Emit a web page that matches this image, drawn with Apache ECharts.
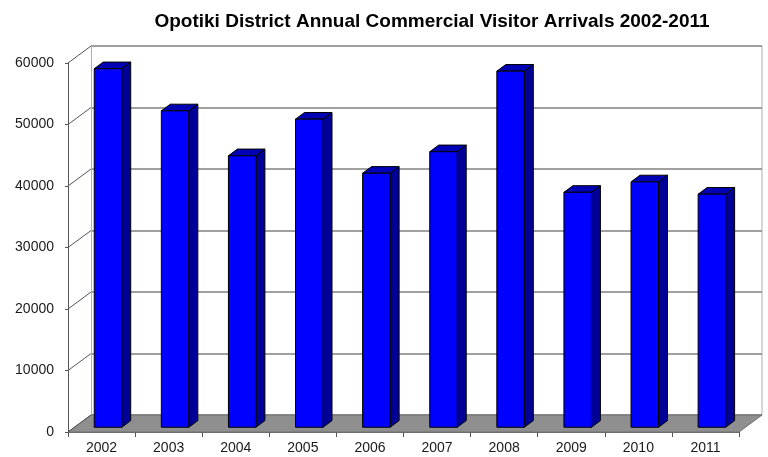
<!DOCTYPE html>
<html>
<head>
<meta charset="utf-8">
<script src="https://cdn.jsdelivr.net/npm/echarts@6/dist/echarts.min.js"></script>
<style>
  html, body { margin: 0; padding: 0; background: #fff; }
  #chart { width: 768px; height: 457px; }
</style>
</head>
<body>
<div id="chart"></div>
<script>
// Annual commercial visitor arrivals, Opotiki District
const years = ['2002', '2003', '2004', '2005', '2006', '2007', '2008', '2009', '2010', '2011'];
const arrivals = [58300, 51450, 44150, 50100, 41300, 44800, 57900, 38200, 39900, 37900];
const valueTicks = [0, 10000, 20000, 30000, 40000, 50000, 60000];

// Pseudo-3D layout: front plane grid and a back wall shifted by (DX, -DY)
const FRONT = { left: 68, right: 29, top: 63, bottom: 25 };
const DX = 23, DY = 17;
const BAR_FRONT = 0.28, BAR_DEPTH = 0.39, BAR_RATIO = 0.41;

const chart = echarts.init(document.getElementById('chart'), null, { renderer: 'canvas' });

const floorSeries = {
  type: 'custom',
  xAxisIndex: 0, yAxisIndex: 0,
  silent: true, z: 1,
  data: [[0]],
  renderItem(params, api) {
    const cs = params.coordSys;
    const y0 = api.coord([0, 0])[1];
    const x0 = cs.x, x1 = cs.x + cs.width;
    return {
      type: 'polygon',
      shape: { points: [[x0, y0], [x1, y0], [x1 + DX, y0 - DY], [x0 + DX, y0 - DY]] },
      style: { fill: '#8f8f8f', stroke: '#6e6e6e', lineWidth: 1 }
    };
  }
};

const wallSeries = {
  type: 'custom',
  xAxisIndex: 0, yAxisIndex: 0,
  silent: true, z: 2,
  data: valueTicks.map(v => [0, v]),
  renderItem(params, api) {
    const cs = params.coordSys;
    const y = api.coord([0, api.value(1)])[1];
    return {
      type: 'line',
      shape: { x1: cs.x, y1: y, x2: cs.x + DX, y2: y - DY },
      style: { stroke: '#555', lineWidth: 1 }
    };
  }
};

const barSeries = {
  type: 'custom',
  xAxisIndex: 0, yAxisIndex: 0,
  z: 5,
  data: arrivals.map((v, i) => [i, v]),
  renderItem(params, api) {
    const i = api.value(0);
    const top = api.coord([i, api.value(1)]);
    const base = api.coord([i, 0]);
    const band = api.size([1, 0])[0];
    const w = band * BAR_RATIO;
    const ox = DX * BAR_FRONT, oy = -DY * BAR_FRONT;
    const bx = DX * BAR_DEPTH, by = -DY * BAR_DEPTH;
    const L = top[0] - w / 2 + ox, R = top[0] + w / 2 + ox;
    const T = top[1] + oy, B = base[1] + oy;
    const edge = { stroke: '#000', lineWidth: 1, lineJoin: 'round' };
    return {
      type: 'group',
      children: [
        { type: 'polygon', shape: { points: [[R, T], [R + bx, T + by], [R + bx, B + by], [R, B]] },
          style: Object.assign({ fill: '#000096' }, edge) },
        { type: 'polygon', shape: { points: [[L, T], [R, T], [R + bx, T + by], [L + bx, T + by]] },
          style: Object.assign({ fill: '#0000b4' }, edge) },
        { type: 'rect', shape: { x: L, y: T, width: R - L, height: B - T },
          style: Object.assign({ fill: '#0000ff' }, edge) }
      ]
    };
  }
};

const labelFont = { fontFamily: 'Liberation Sans, Arial, sans-serif', fontSize: 14, color: '#1a1a1a' };

chart.setOption({
  backgroundColor: '#ffffff',
  animation: false,
  title: {
    text: 'Opotiki District Annual Commercial Visitor Arrivals 2002-2011',
    left: 427, top: 7, textAlign: 'center',
    textStyle: { fontFamily: 'Liberation Sans, Arial, sans-serif', fontSize: 19, fontWeight: 'bold', color: '#000' }
  },
  grid: [
    { left: FRONT.left, right: FRONT.right, top: FRONT.top, bottom: FRONT.bottom },
    { left: FRONT.left + DX, right: FRONT.right - DX, top: FRONT.top - DY, bottom: FRONT.bottom + DY }
  ],
  xAxis: [
    {
      type: 'category', gridIndex: 0, data: years, boundaryGap: true,
      axisLine: { show: true, lineStyle: { color: '#6e6e6e', width: 1 } },
      axisTick: { show: true, length: 5, alignWithLabel: false, lineStyle: { color: '#555' } },
      axisLabel: Object.assign({ margin: 9 }, labelFont),
      splitLine: { show: false }
    },
    {
      type: 'category', gridIndex: 1, data: years, show: true,
      axisLine: { show: false }, axisTick: { show: false }, axisLabel: { show: false },
      splitLine: { show: false }
    }
  ],
  yAxis: [
    {
      type: 'value', gridIndex: 0, min: 0, max: 60000, interval: 10000,
      axisLine: { show: true, lineStyle: { color: '#555', width: 1 } },
      axisTick: { show: true, length: 3, lineStyle: { color: '#555' } },
      axisLabel: Object.assign({ margin: 14, formatter: v => String(v) }, labelFont),
      splitLine: { show: false }
    },
    {
      type: 'value', gridIndex: 1, min: 0, max: 60000, interval: 10000,
      axisLine: { show: true, lineStyle: { color: '#b0b0b0', width: 1 } },
      axisTick: { show: false }, axisLabel: { show: false },
      splitLine: { show: true, lineStyle: { color: '#808080', width: 1.5 } }
    }
  ],
  graphic: [
    {
      type: 'line', z: 0,
      shape: { x1: 768 - FRONT.right + DX, y1: FRONT.top - DY, x2: 768 - FRONT.right + DX, y2: 457 - FRONT.bottom - DY },
      style: { stroke: '#b0b0b0', lineWidth: 1 }
    }
  ],
  series: [floorSeries, wallSeries, barSeries]
});
</script>
</body>
</html>
